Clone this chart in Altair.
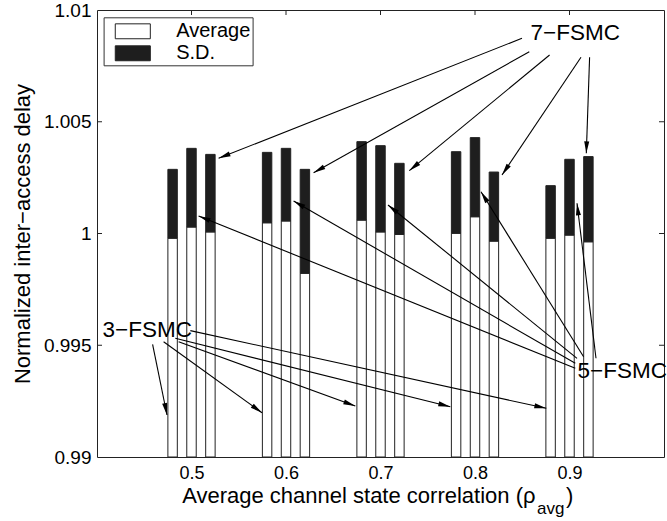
import math
import altair as alt
import pandas as pd

# ---------------- data ----------------
groups = [0.5, 0.6, 0.7, 0.8, 0.9]
models = ["3-FSMC", "5-FSMC", "7-FSMC"]
model_offset = [-0.02, 0.0, 0.02]
bar_half_width = 0.005

avg_3 = [0.99979, 1.00048, 1.00060, 1.00001, 0.99979]
avg_5 = [1.00029, 1.00056, 1.00007, 1.00075, 0.99993]
avg_7 = [1.00007, 0.99822, 0.99996, 0.99966, 0.99963]
sd_3 = [0.00308, 0.00315, 0.00351, 0.00365, 0.00235]
sd_5 = [0.00352, 0.00325, 0.00386, 0.00354, 0.00339]
sd_7 = [0.00347, 0.00465, 0.00318, 0.00309, 0.00381]

x_ticks = [0.5, 0.6, 0.7, 0.8, 0.9]
y_ticks = [0.99, 0.995, 1.0, 1.005, 1.01]
inner_y_ticks = [0.995, 1.0, 1.005]

# annotation labels (data coordinates)
label_text = ["7\u2212FSMC", "3\u2212FSMC", "5\u2212FSMC"]
label_x = [0.90614, 0.45323, 0.95587]
label_y = [1.008958, 0.995682, 0.993857]

# arrows: start (x0, y0) -> tip (x1, y1)
arrow_x0 = [0.84970, 0.85746, 0.87894, 0.91217, 0.92127,
            0.90614, 0.90614, 0.90794, 0.91492, 0.92804,
            0.45884, 0.47048, 0.48635, 0.48286, 0.49873]
arrow_y0 = [1.008734, 1.008134, 1.007987, 1.007884, 1.007884,
            0.993969, 0.994193, 0.994416, 0.994488, 0.994416,
            0.995042, 0.995159, 0.995159, 0.995311, 0.995654]
arrow_x1 = [0.52868, 0.62921, 0.73048, 0.82857, 0.91778,
            0.50751, 0.60804, 0.70794, 0.80635, 0.90794,
            0.47407, 0.57460, 0.67333, 0.77386, 0.87545]
arrow_y1 = [1.003365, 1.002720, 1.002810, 1.002617, 1.003586,
            1.000783, 1.001454, 1.001275, 1.001870, 1.001351,
            0.991879, 0.991982, 0.992282, 0.992251, 0.992179]

# ---------------- layout ----------------
W, H = 567, 447
XDOM = [0.4, 1.0]
YDOM = [0.99, 1.01]
FONT = "Liberation Sans"
INK = "#1e1e1e"

xs = alt.Scale(domain=XDOM, nice=False, zero=False)
ys = alt.Scale(domain=YDOM, nice=False, zero=False)

# ---------------- tables ----------------
avgs = [avg_3, avg_5, avg_7]
sds = [sd_3, sd_5, sd_7]
rows = []
for mi, m in enumerate(models):
    for gi, g in enumerate(groups):
        c = g + model_offset[mi]
        a = avgs[mi][gi]
        s = sds[mi][gi]
        rows.append(dict(model=m, rho=g, x=c - bar_half_width, x2=c + bar_half_width,
                         y=YDOM[0], y2=a, part="Average"))
        rows.append(dict(model=m, rho=g, x=c - bar_half_width, x2=c + bar_half_width,
                         y=a, y2=a + s, part="S.D."))
bars_df = pd.DataFrame(rows)

px_x = W / (XDOM[1] - XDOM[0])
px_y = H / (YDOM[1] - YDOM[0])
arr_rows = []
for x0, y0, x1, y1 in zip(arrow_x0, arrow_y0, arrow_x1, arrow_y1):
    dx = (x1 - x0) * px_x
    dy = -(y1 - y0) * px_y
    ang = math.degrees(math.atan2(dx, -dy)) % 360
    arr_rows.append(dict(x0=x0, y0=y0, x1=x1, y1=y1, angle=ang))
arr_df = pd.DataFrame(arr_rows)

lab_df = pd.DataFrame(dict(text=label_text, x=label_x, y=label_y))

legend_path = "M-1.55,-0.66H1.55V0.66H-1.55Z"

bars = alt.Chart(bars_df).mark_rect(stroke="#222", strokeWidth=1, clip=True).encode(
    x=alt.X("x:Q", scale=xs,
            axis=alt.Axis(values=x_ticks, format=".1f", title=None, tickSize=0,
                          domain=False, grid=False, labelFont=FONT, labelFontSize=18,
                          labelColor="black", labelBaseline="alphabetic", labelPadding=21.5)),
    x2="x2:Q",
    y=alt.Y("y:Q", scale=ys,
            axis=alt.Axis(values=y_ticks, format="~g", title="Normalized inter\u2212access delay",
                          tickSize=0, domain=False, grid=False, labelFont=FONT,
                          labelFontSize=19, labelColor="black", labelPadding=6,
                          titleFont=FONT, titleFontSize=22, titleFontWeight="normal",
                          titleColor="black", titlePadding=9)),
    y2="y2:Q",
    color=alt.Color("part:N",
                    scale=alt.Scale(domain=["Average", "S.D."], range=["white", INK]),
                    legend=alt.Legend(title=None, orient="none", legendX=6.6, legendY=7.3,
                                      symbolType=legend_path, symbolSize=511,
                                      symbolStrokeColor="#222", symbolStrokeWidth=1,
                                      symbolOffset=15.2, labelOffset=31.4,
                                      labelExpr="datum.label + '\u2002\u2009'",
                                      labelFont=FONT, labelFontSize=20, labelColor="black",
                                      strokeColor="#333", fillColor="white", padding=2,
                                      rowPadding=0)),
)

top_ticks = alt.Chart(pd.DataFrame(dict(v=x_ticks))).mark_rule(color="#222").encode(
    x=alt.X("v:Q", scale=xs), y=alt.value(0), y2=alt.value(5))
left_ticks = alt.Chart(pd.DataFrame(dict(v=inner_y_ticks))).mark_rule(color="#222").encode(
    y=alt.Y("v:Q", scale=ys), x=alt.value(0), x2=alt.value(5))
right_ticks = alt.Chart(pd.DataFrame(dict(v=inner_y_ticks))).mark_rule(color="#222").encode(
    y=alt.Y("v:Q", scale=ys), x=alt.value(W - 5), x2=alt.value(W))

lines = alt.Chart(arr_df).mark_rule(color="black", strokeWidth=1.1).encode(
    x=alt.X("x0:Q", scale=xs), y=alt.Y("y0:Q", scale=ys), x2="x1:Q", y2="y1:Q")
heads = alt.Chart(arr_df).mark_point(shape="M0,0L-0.42,2L0.42,2Z", filled=True,
                                     color="black", opacity=1, size=144).encode(
    x=alt.X("x1:Q", scale=xs), y=alt.Y("y1:Q", scale=ys), angle=alt.Angle("angle:Q", scale=None))

labels = alt.Chart(lab_df).mark_text(font=FONT, fontSize=22.5, color="black",
                                     align="center", baseline="middle").encode(
    x=alt.X("x:Q", scale=xs), y=alt.Y("y:Q", scale=ys), text="text:N")

title_df = pd.DataFrame(dict(t=["Average channel state correlation (\u03c1"]))
t_main = alt.Chart(title_df).mark_text(font=FONT, fontSize=22, color="black", align="right",
                                       baseline="alphabetic").encode(
    text="t:N", x=alt.value(438.5), y=alt.value(493))
t_sub = alt.Chart(pd.DataFrame(dict(t=["avg"]))).mark_text(font=FONT, fontSize=17, color="black",
                                                          align="left", baseline="alphabetic").encode(
    text="t:N", x=alt.value(440), y=alt.value(504))
t_par = alt.Chart(pd.DataFrame(dict(t=[")"]))).mark_text(font=FONT, fontSize=22, color="black",
                                                        align="left", baseline="alphabetic").encode(
    text="t:N", x=alt.value(469), y=alt.value(493))

chart = alt.layer(bars, top_ticks, left_ticks, right_ticks, lines, heads, labels,
                  t_main, t_sub, t_par).properties(
    width=W, height=H,
    autosize=alt.AutoSizeParams(type="none"),
    padding={"left": 97, "top": 10, "right": 3, "bottom": 64},
    background="white",
).configure_view(stroke="#222", strokeWidth=1)

chart.save("out.html", embed_options={"renderer": "svg", "actions": False})
